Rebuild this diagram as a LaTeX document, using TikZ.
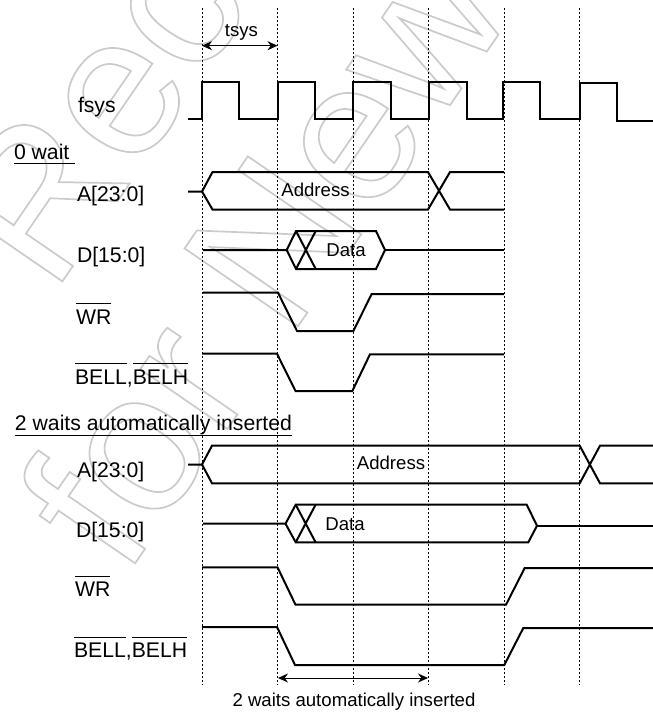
\documentclass[tikz,border=0pt]{standalone}
\usepackage{fontspec}
\usetikzlibrary{arrows.meta}
\setmainfont{Liberation Sans}
\definecolor{mark}{HTML}{CBCBCB}
\newcommand{\LabelFont}{\fontsize{21.2}{24}\selectfont}
\newcommand{\SmallFont}{\fontsize{18.6}{22}\selectfont}
\newcommand{\MarkFont}{\fontsize{200}{210}\selectfont}
\newcommand{\BarText}[1]{\setbox0\hbox{#1}\rlap{\vrule width\wd0 height 0.98em depth -0.94em}\box0}
\newcommand{\UnderText}[1]{\setbox0\hbox{#1}\rlap{\vrule width\wd0 height -0.19em depth 0.23em}\box0}
\newcommand{\OutlineText}{\special{pdf:code 1 Tr 1.7 w}}
\tikzset{
  wave/.style={line width=2pt,line join=miter},
  tick/.style={line width=0.8pt,dash pattern=on 2pt off 2pt},
  span/.style={{Stealth[length=10pt,width=9pt]}-{Stealth[length=10pt,width=9pt]},line width=1pt},
  lbl/.style={anchor=base west,inner sep=0pt,outer sep=0pt,font=\LabelFont},
  txt/.style={anchor=base,inner sep=0pt,outer sep=0pt,font=\SmallFont},
  wmark/.style={anchor=base west,inner sep=0pt,rotate=55.5,text=mark,font=\MarkFont}
}
\begin{document}
\begin{tikzpicture}[x=1pt,y=-1pt]
  \useasboundingbox (0,0) rectangle (653,713);
  % watermark
  \begin{scope}
    \clip (0,0) rectangle (653,713);
    \node[wmark] (markone) at (53,295) {\OutlineText Rec};
    \node[wmark] (marktwo) at (125,578) {\OutlineText for New};
  \end{scope}
  % clock grid
  \foreach \x in {202,277.5,353,428,504,579.5}
    \draw[tick] (\x,8) -- (\x,685);
  % period
  \coordinate (tsysl) at (202,45.7);
  \coordinate (tsysr) at (277.5,45.7);
  \draw[span] (tsysl) -- (tsysr);
  \node[txt] (tsys) at (241.5,36) {tsys};
  % clock
  \node[lbl] (fsys) at (78,112.7) {fsys};
  \draw[wave] (188,118.5) -| (202,82) -| (239,118.5) -| (277.5,82) -| (315,118.5) -| (353,82)
    -| (390.5,118.5) -| (429,82) -| (466.5,118.5) -| (503,82) -| (540,118.5) -| (579.5,83.3)
    -| (617,120.7) -- (653,120.7);
  % no wait
  \node[lbl] (zerowait) at (14,159) {\UnderText{0 wait\ }};
  \node[lbl] (addrA) at (77,201) {A[23:0]};
  \draw[wave] (188,191.5) -- (202,191.5) -- (212.5,172) -- (428,172) -- (450,209.5) -- (504,209.5);
  \draw[wave] (202,191.5) -- (212.5,209.5) -- (428,209.5) -- (450,172) -- (504,172);
  \node[txt] (addrAt) at (315.5,196) {Address};
  \node[lbl] (dataA) at (77,262.3) {D[15:0]};
  \draw[wave] (203,250) -- (286.7,250) -- (296,231) -- (376,231) -- (385,250) -- (376,269) -- (296,269) -- (286.7,250);
  \draw[wave] (296,231) -- (315.7,269) (296,269) -- (315.7,231);
  \draw[wave] (385,250) -- (504,250);
  \node[txt] (dataAt) at (346,256) {Data};
  \node[lbl] (wrA) at (76,324) {\BarText{WR}};
  \draw[wave] (203,292.7) -- (278,292.7) -- (297,331) -- (353.3,331) -- (371.7,294) -- (504,294);
  \node[lbl] (belA) at (75,384) {\BarText{BELL},\BarText{BELH}};
  \draw[wave] (202,353.7) -- (277,353.7) -- (295.5,391) -- (352.3,391) -- (370,354.3) -- (504,354.3);
  % two waits
  \node[lbl] (twowait) at (15,430.7) {\UnderText{2 waits automatically inserted}};
  \node[lbl] (addrB) at (77,477) {A[23:0]};
  \draw[wave] (188,464.5) -- (202,464.5) -- (212,445.7) -- (579.7,445.7) -- (600,483.3) -- (653,483.3);
  \draw[wave] (202,464.5) -- (212,483.3) -- (579.7,483.3) -- (600,445.7) -- (653,445.7);
  \node[txt] (addrBt) at (391,469) {Address};
  \node[lbl] (dataB) at (76,537.7) {D[15:0]};
  \draw[wave] (203,523.7) -- (285.5,523.7) -- (295.7,504.7) -- (526.7,504.7) -- (537,525.7) -- (528.3,542.3) -- (295.7,542.3) -- (285.5,523.7);
  \draw[wave] (295.7,504.7) -- (315.6,542.3) (295.7,542.3) -- (315.6,504.7);
  \draw[wave] (537,525.7) -- (653,525.7);
  \node[txt] (dataBt) at (345,530) {Data};
  \node[lbl] (wrB) at (75,596.7) {\BarText{WR}};
  \draw[wave] (202,567.3) -- (277.5,567.3) -- (295.5,604.7) -- (506,604.7) -- (524.7,568) -- (653,568);
  \node[lbl] (belB) at (74,657.7) {\BarText{BELL},\BarText{BELH}};
  \draw[wave] (202,627) -- (277,627) -- (295,665) -- (504.3,665) -- (523.3,628) -- (653,628);
  % inserted waits
  \coordinate (waitl) at (278,678);
  \coordinate (waitr) at (428,678);
  \draw[span] (waitl) -- (waitr);
  \node[txt] (waittxt) at (354,706.7) {2 waits automatically inserted};
\end{tikzpicture}
\end{document}
